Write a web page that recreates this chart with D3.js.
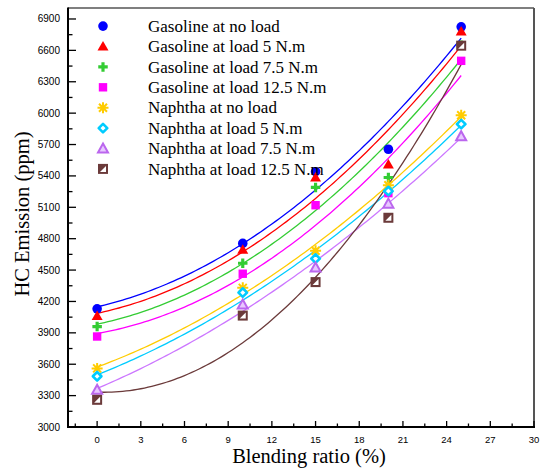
<!DOCTYPE html>
<html><head><meta charset="utf-8">
<script src="https://cdn.jsdelivr.net/npm/d3@7"></script>
<style>body{margin:0;background:#fff}svg{display:block}</style>
</head><body>
<script>
const blendingRatio = [0, 10, 15, 20, 25];
const seriesNames = [
  "Gasoline at no load", "Gasoline at load 5 N.m", "Gasoline at load 7.5 N.m", "Gasoline at load 12.5 N.m",
  "Naphtha at no load", "Naphtha at load 5 N.m", "Naphtha at load 7.5 N.m", "Naphtha at load 12.5 N.m"
];
const gasolineNoLoad  = [4130, 4755, 5440, 5655, 6825];
const gasolineLoad5   = [4060, 4695, 5385, 5510, 6780];
const gasolineLoad75  = [3960, 4565, 5290, 5385, 6650];
const gasolineLoad125 = [3865, 4465, 5120, 5235, 6500];
const naphthaNoLoad   = [3560, 4330, 4685, 5310, 5980];
const naphthaLoad5    = [3485, 4285, 4610, 5255, 5895];
const naphthaLoad75   = [3355, 4170, 4525, 5135, 5780];
const naphthaLoad125  = [3260, 4065, 4385, 5000, 6645];
const xTicks = [0, 3, 6, 9, 12, 15, 18, 21, 24, 27, 30];
const yTicks = [3000, 3300, 3600, 3900, 4200, 4500, 4800, 5100, 5400, 5700, 6000, 6300, 6600, 6900];

const allValues = [gasolineNoLoad, gasolineLoad5, gasolineLoad75, gasolineLoad125,
                   naphthaNoLoad, naphthaLoad5, naphthaLoad75, naphthaLoad125];
const lineColors = ["#0000ff", "#ff0000", "#33cc33", "#ff00ff", "#ffcc00", "#00ccff", "#cc77ff", "#6b3a3a"];
const markerTypes = ["circle", "triangle", "plus", "square", "star", "diamond", "otriangle", "halfsquare"];

const W = 550, H = 469;
const svg = d3.select("body").append("svg").attr("width", W).attr("height", H);
const x = d3.scaleLinear().domain([-2, 30]).range([68, 534]);
const y = d3.scaleLinear().domain([3000, 7005]).range([427, 8]);

// frame
svg.append("line").attr("x1", 68).attr("x2", 534).attr("y1", 8).attr("y2", 8).attr("stroke", "#555").attr("stroke-width", 1.5);
svg.append("line").attr("x1", 534).attr("x2", 534).attr("y1", 8).attr("y2", 427).attr("stroke", "#555").attr("stroke-width", 2);

// axes
const xMinor = d3.range(-1.5, 30, 3);
const yMinor = d3.range(3150, 7000, 300);
const axG = svg.append("g");
axG.selectAll(".xmaj").data(xTicks).join("line")
  .attr("x1", d => x(d)).attr("x2", d => x(d)).attr("y1", 427).attr("y2", 421)
  .attr("stroke", "#000").attr("stroke-width", 1.3);
axG.selectAll(".xmin").data(xMinor).join("line")
  .attr("x1", d => x(d)).attr("x2", d => x(d)).attr("y1", 427).attr("y2", 423.5)
  .attr("stroke", "#000").attr("stroke-width", 1.3);
axG.selectAll(".ymaj").data(yTicks).join("line")
  .attr("y1", d => y(d)).attr("y2", d => y(d)).attr("x1", 68).attr("x2", 76)
  .attr("stroke", "#000").attr("stroke-width", 1.3);
axG.selectAll(".ymin").data(yMinor).join("line")
  .attr("y1", d => y(d)).attr("y2", d => y(d)).attr("x1", 68).attr("x2", 72.5)
  .attr("stroke", "#000").attr("stroke-width", 1.3);
svg.append("line").attr("x1", 68).attr("x2", 535).attr("y1", 427).attr("y2", 427).attr("stroke", "#000").attr("stroke-width", 2);
svg.append("line").attr("x1", 68).attr("x2", 68).attr("y1", 7.5).attr("y2", 428).attr("stroke", "#000").attr("stroke-width", 2);

axG.selectAll(".xl").data(xTicks).join("text")
  .attr("x", d => x(d)).attr("y", 442.5).attr("text-anchor", "middle")
  .attr("font-family", "Liberation Sans, Arial, sans-serif").attr("font-size", 9.5).text(d => d);
axG.selectAll(".yl").data(yTicks).join("text")
  .attr("x", 60).attr("y", d => y(d) + 3.5).attr("text-anchor", "end")
  .attr("font-family", "Liberation Sans, Arial, sans-serif").attr("font-size", 10).text(d => d);

svg.append("text").attr("transform", "translate(29,214) rotate(-90)").attr("text-anchor", "middle")
  .attr("font-family", "Liberation Serif, Times New Roman, serif").attr("font-size", 20.5).text("HC Emission (ppm)");
svg.append("text").attr("x", 309).attr("y", 463).attr("text-anchor", "middle")
  .attr("font-family", "Liberation Serif, Times New Roman, serif").attr("font-size", 20.5).text("Blending ratio (%)");

// least-squares quadratic fit of each series
function quadFit(xs, ys) {
  const S = k => d3.sum(xs, v => Math.pow(v, k));
  const T = k => d3.sum(xs, (v, i) => Math.pow(v, k) * ys[i]);
  const A = [[xs.length, S(1), S(2), T(0)], [S(1), S(2), S(3), T(1)], [S(2), S(3), S(4), T(2)]];
  for (let i = 0; i < 3; i++) {
    for (let j = i + 1; j < 3; j++) {
      const f = A[j][i] / A[i][i];
      for (let k = i; k < 4; k++) A[j][k] -= f * A[i][k];
    }
  }
  const c = [0, 0, 0];
  for (let i = 2; i >= 0; i--) {
    let s = A[i][3];
    for (let k = i + 1; k < 3; k++) s -= A[i][k] * c[k];
    c[i] = s / A[i][i];
  }
  return t => c[0] + c[1] * t + c[2] * t * t;
}

const xs = d3.range(0, 25.001, 0.25);
const line = d3.line().x(d => x(d[0])).y(d => y(d[1]));
allValues.forEach((vals, i) => {
  const f = quadFit(blendingRatio, vals);
  svg.append("path").attr("d", line(xs.map(t => [t, f(t)])))
    .attr("fill", "none").attr("stroke", lineColors[i]).attr("stroke-width", 1.3);
});

function drawMarker(g, type, color, cx, cy) {
  const t = `translate(${cx},${cy})`;
  if (type === "circle") {
    g.append("circle").attr("cx", cx).attr("cy", cy).attr("r", 4.8).attr("fill", color);
  } else if (type === "triangle") {
    g.append("path").attr("transform", t).attr("d", "M0,-5.5L5.5,4L-5.5,4Z").attr("fill", color);
  } else if (type === "plus") {
    g.append("path").attr("transform", t).attr("d", d3.symbol(d3.symbolCross, 50)()).attr("fill", color);
  } else if (type === "square") {
    g.append("rect").attr("x", cx - 4.2).attr("y", cy - 4.2).attr("width", 8.4).attr("height", 8.4).attr("fill", color);
  } else if (type === "star") {
    g.append("path").attr("transform", t)
      .attr("d", "M-5.5,0L5.5,0M0,-5.5L0,5.5M-4,-4L4,4M-4,4L4,-4")
      .attr("stroke", color).attr("stroke-width", 2).attr("fill", "none");
  } else if (type === "diamond") {
    g.append("path").attr("transform", t).attr("d", "M0,-4.3L4.3,0L0,4.3L-4.3,0Z")
      .attr("fill", "#fff").attr("stroke", color).attr("stroke-width", 2.6).attr("stroke-linejoin", "round");
  } else if (type === "otriangle") {
    g.append("path").attr("transform", t).attr("d", "M0,-5L5,4L-5,4Z")
      .attr("fill", "#e8c8ff").attr("stroke", "#bb66ee").attr("stroke-width", 2).attr("stroke-linejoin", "miter");
  } else if (type === "halfsquare") {
    g.append("rect").attr("x", cx - 5).attr("y", cy - 5).attr("width", 10).attr("height", 10).attr("fill", color);
    g.append("path").attr("transform", t).attr("d", "M-3,3L3,3L3,-3Z").attr("fill", "#fff");
  }
}

const mG = svg.append("g");
allValues.forEach((vals, i) => {
  vals.forEach((v, j) => drawMarker(mG, markerTypes[i], lineColors[i], x(blendingRatio[j]), y(v)));
});

// legend
const lg = svg.append("g");
seriesNames.forEach((name, i) => {
  const by = 31.7 + i * 20.4;
  drawMarker(lg, markerTypes[i], lineColors[i], 103, by - 5.6);
  lg.append("text").attr("x", 148).attr("y", by)
    .attr("font-family", "Liberation Serif, Times New Roman, serif").attr("font-size", 17).text(name);
});
</script>
</body></html>
